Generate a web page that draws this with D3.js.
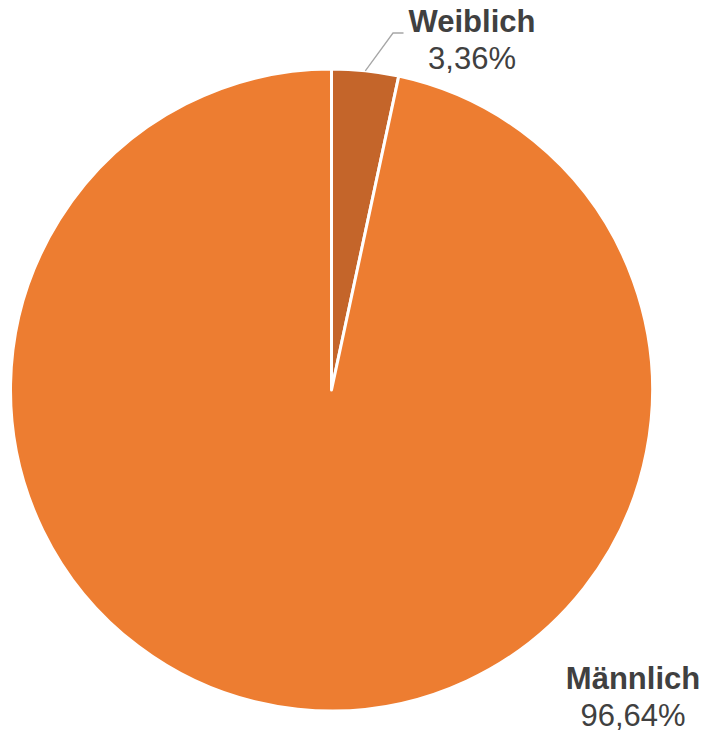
<!DOCTYPE html>
<html>
<head>
<meta charset="utf-8">
<script src="https://cdn.jsdelivr.net/npm/d3@7"></script>
<style>
  body { margin: 0; background: #fff; }
  svg { display: block; }
</style>
</head>
<body>
<svg id="viz"></svg>
<script>
var width = 706;
var height = 732;

// data
var categories = ["Weiblich", "Männlich"];
var values = [3.36, 96.64];
var colors = ["#C4652A", "#ED7D31"];

var cx = 331.5, cy = 390, radius = 321;

var svg = d3.select("#viz").attr("width", width).attr("height", height);
var g = svg.append("g").attr("transform", "translate(" + cx + "," + cy + ")");

var pie = d3.pie().sort(null).value(function (d) { return d.value; });
var arc = d3.arc().innerRadius(0).outerRadius(radius);

var slices = pie(categories.map(function (c, i) {
    return { name: c, value: values[i], color: colors[i] };
}));

g.selectAll("path")
    .data(slices)
    .enter().append("path")
    .attr("d", arc)
    .attr("fill", function (d) { return d.data.color; })
    .attr("stroke", "#fff")
    .attr("stroke-width", 3)
    .attr("stroke-linejoin", "round");

// leader line for small slice
var w = slices[0];
var mid = (w.startAngle + w.endAngle) / 2;
var p0 = [Math.sin(mid) * radius, -Math.cos(mid) * radius];
g.append("polyline")
    .attr("points", [p0, [61.5, -357], [72, -357]].map(function (p) { return p.join(","); }).join(" "))
    .attr("fill", "none")
    .attr("stroke", "#A6A6A6")
    .attr("stroke-width", 1.3);

// label positions (absolute)
var labelPos = [[472, 32], [633, 689]];

var labels = svg.append("g")
    .attr("font-family", "Liberation Sans, Arial, sans-serif")
    .attr("fill", "#404040")
    .attr("text-anchor", "middle");

slices.forEach(function (d, i) {
    var t = labels.append("text")
        .attr("x", labelPos[i][0])
        .attr("y", labelPos[i][1]);
    t.append("tspan")
        .attr("font-weight", "bold")
        .attr("font-size", 31)
        .text(d.data.name);
    t.append("tspan")
        .attr("x", labelPos[i][0])
        .attr("dy", 37)
        .attr("font-size", 31)
        .text(d3.format(".2f")(d.data.value).replace(".", ",") + "%");
});
</script>
</body>
</html>
